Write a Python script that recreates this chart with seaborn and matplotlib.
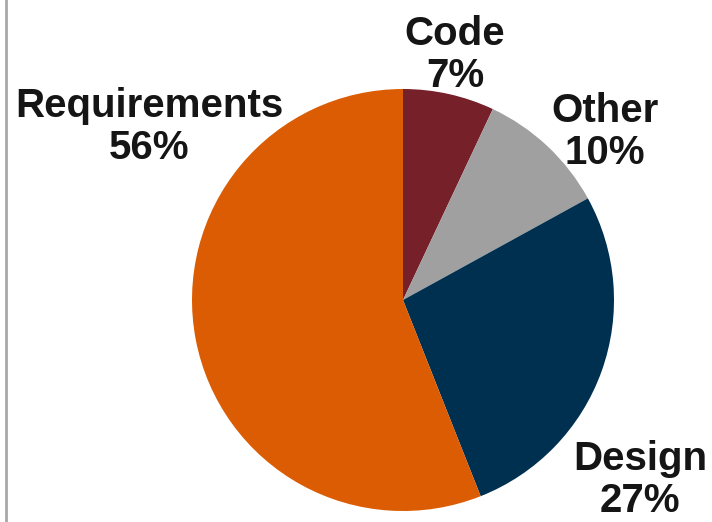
"""
Share of defects by origin - pie chart
"""
import matplotlib
matplotlib.use('Agg')
import matplotlib.pyplot as plt
import seaborn as sns

## Data
categories = ['Code', 'Other', 'Design', 'Requirements']
shares = [7, 10, 27, 56]
colors = ['#76202a', '#a0a0a0', '#00304f', '#db5c02']

# label anchor points in pixels (x, y from top)
label_pos = {
    'Code': (455, 55),
    'Other': (605, 132),
    'Design': (640, 480),
    'Requirements': (149, 127),
}

sns.set_theme(style='white')
plt.rcParams['font.family'] = ['Liberation Sans', 'DejaVu Sans']

W, H = 712, 522
fig = plt.figure(figsize=(W / 100, H / 100), dpi=100)
ax = fig.add_axes([0, 0, 1, 1])
ax.set_xlim(0, W)
ax.set_ylim(0, H)
ax.set_aspect('equal')
ax.axis('off')

ax.pie(shares, colors=colors, startangle=90, counterclock=False,
       center=(403, H - 300), radius=211,
       wedgeprops=dict(linewidth=0))
ax.set_xlim(0, W)
ax.set_ylim(0, H)

for cat, val in zip(categories, shares):
    x, y = label_pos[cat]
    ax.text(x, H - y, f'{cat}\n{val}%', ha='center', va='center',
            fontsize=29, fontweight='bold', color='#151515',
            linespacing=1.12)

# thin grey frame edge on the left
fig.add_artist(plt.Line2D([5.5 / W, 5.5 / W], [0, 1], color='#a8a8a8',
                          linewidth=2, transform=fig.transFigure))

plt.savefig('out.png', dpi=100)
